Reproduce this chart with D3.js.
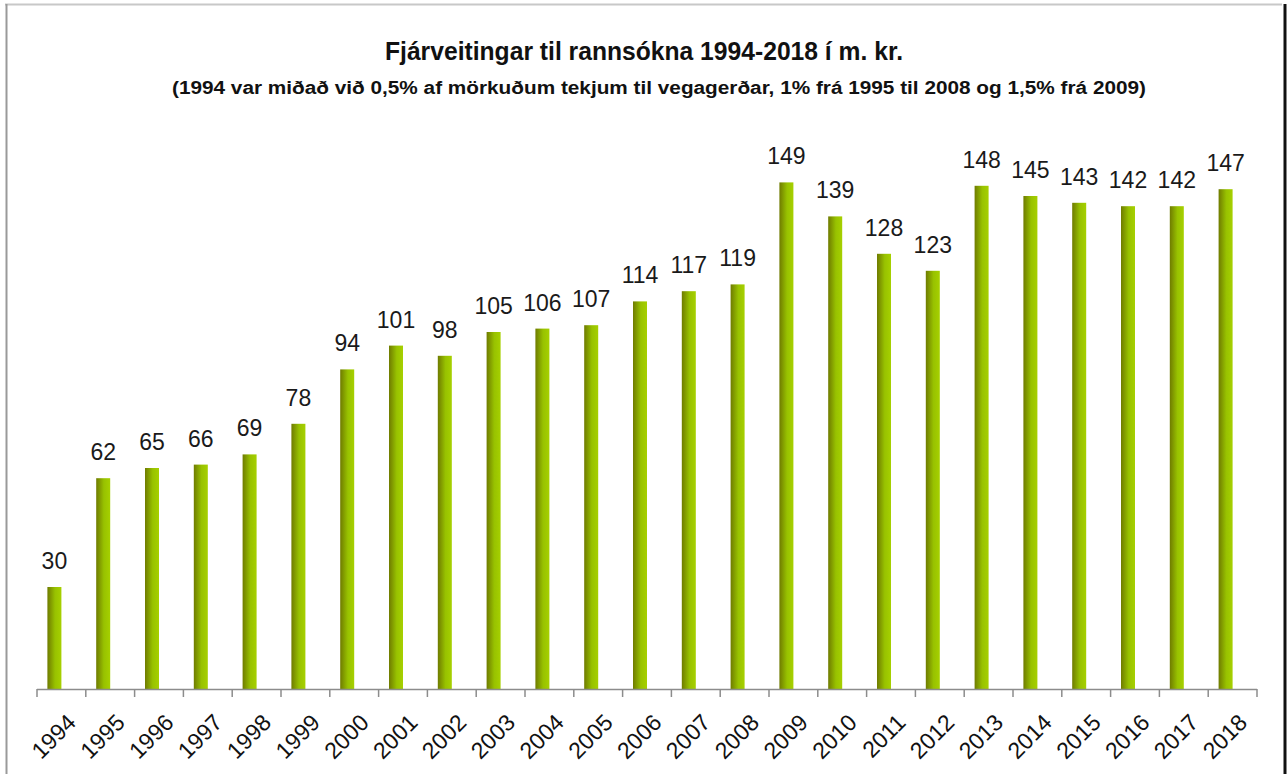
<!DOCTYPE html>
<html><head><meta charset="utf-8">
<script src="https://cdn.jsdelivr.net/npm/d3@7"></script>
<style>
html,body{margin:0;padding:0;background:#fff;}
svg{display:block;}
text{font-family:"Liberation Sans",Arial,sans-serif;}
</style></head>
<body>
<script>
const years = ["1994","1995","1996","1997","1998","1999","2000","2001","2002","2003","2004","2005","2006","2007","2008","2009","2010","2011","2012","2013","2014","2015","2016","2017","2018"];
const values = [30,62,65,66,69,78,94,101,98,105,106,107,114,117,119,149,139,128,123,148,145,143,142,142,147];
const titleText = "Fjárveitingar til rannsókna 1994-2018 í m. kr.";
const subtitleText = "(1994 var miðað við 0,5% af mörkuðum tekjum til vegagerðar, 1% frá 1995 til 2008 og 1,5% frá 2009)";

const W = 1287, H = 774;
const svg = d3.select("body").append("svg").attr("width", W).attr("height", H);

// frame
svg.append("line").attr("x1",5).attr("x2",1282).attr("y1",4.5).attr("y2",4.5).attr("stroke","#c8c8c8").attr("stroke-width",2);
svg.append("line").attr("x1",6.5).attr("x2",6.5).attr("y1",4).attr("y2",H).attr("stroke","#9a9a9a").attr("stroke-width",2);
svg.append("line").attr("x1",1285).attr("x2",1285).attr("y1",4).attr("y2",H).attr("stroke","#111").attr("stroke-width",3);

// gradient
const defs = svg.append("defs");
const g = defs.append("linearGradient").attr("id","barGrad").attr("x1","0%").attr("x2","100%").attr("y1","0%").attr("y2","0%");
g.append("stop").attr("offset","0%").attr("stop-color","#6f7b00");
g.append("stop").attr("offset","55%").attr("stop-color","#98c200");
g.append("stop").attr("offset","100%").attr("stop-color","#a6d000");

// titles
svg.append("text").attr("x",644).attr("y",60).attr("text-anchor","middle")
  .attr("font-size",26).attr("font-weight","bold").attr("fill","#111")
  .attr("textLength",518).attr("lengthAdjust","spacingAndGlyphs").text(titleText);
svg.append("text").attr("x",659).attr("y",94).attr("text-anchor","middle")
  .attr("font-size",18).attr("font-weight","bold").attr("fill","#111")
  .attr("textLength",974).attr("lengthAdjust","spacingAndGlyphs").text(subtitleText);

const x = d3.scaleBand().domain(years).range([37,1257]).padding(0);
const y = d3.scaleLinear().domain([0,160]).range([689,145]);
const barW = 14, barShift = -7;

svg.append("g").selectAll("rect").data(years).join("rect")
  .attr("x", d => x(d) + x.bandwidth()/2 + barShift - barW/2)
  .attr("width", barW)
  .attr("y", (d,i) => y(values[i]))
  .attr("height", (d,i) => y(0) - y(values[i]))
  .attr("fill","url(#barGrad)");

svg.append("g").selectAll("text").data(years).join("text")
  .attr("x", d => x(d) + x.bandwidth()/2 + barShift)
  .attr("y", (d,i) => y(values[i]) - 18)
  .attr("text-anchor","middle").attr("font-size",23).attr("fill","#1a1a1a")
  .text((d,i) => values[i]);

// axis
const axisG = svg.append("g");
axisG.append("line").attr("x1",37).attr("x2",1257).attr("y1",689.5).attr("y2",689.5).attr("stroke","#8c8c8c").attr("stroke-width",1.5);
const tickPos = years.map(d => x(d)).concat([x.range()[1]]);
axisG.selectAll("line.tick").data(tickPos).join("line").attr("class","tick")
  .attr("x1", d => d).attr("x2", d => d).attr("y1",689).attr("y2",697)
  .attr("stroke","#8c8c8c").attr("stroke-width",1.5);
axisG.selectAll("text").data(years).join("text")
  .attr("transform", d => `translate(${x(d) + x.bandwidth()/2 + 16},${724}) rotate(-45)`)
  .attr("text-anchor","end").attr("font-size",23).attr("fill","#111")
  .text(d => d);
</script>
</body></html>
